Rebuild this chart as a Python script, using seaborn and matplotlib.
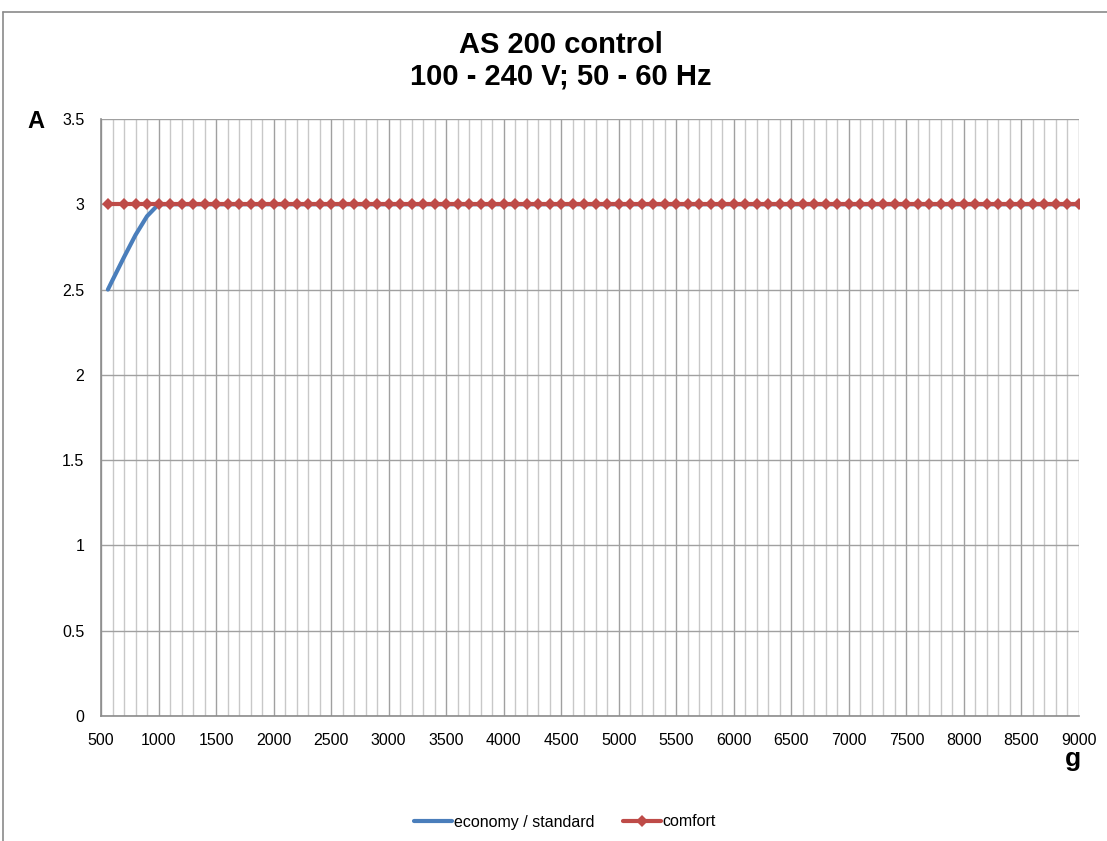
import numpy as np
import pandas as pd
import matplotlib
matplotlib.use("Agg")
import matplotlib.pyplot as plt
from matplotlib.lines import Line2D
from matplotlib.ticker import MultipleLocator
import seaborn as sns

# ---- data ----
title_lines = ["AS 200 control", "100 - 240 V; 50 - 60 Hz"]
economy_x = [560, 600, 700, 800, 900, 1000] + list(range(1100, 9001, 100))
economy_y = [2.5, 2.555, 2.69, 2.82, 2.93, 3.0] + [3.0] * len(range(1100, 9001, 100))
comfort_x = [560] + list(range(700, 9001, 100))
comfort_y = [3.0] * len(comfort_x)
x_ticks = list(range(500, 9001, 500))
y_ticks = [0, 0.5, 1, 1.5, 2, 2.5, 3, 3.5]
y_tick_labels = ["0", "0.5", "1", "1.5", "2", "2.5", "3", "3.5"]
series_names = ["economy / standard", "comfort"]

sns.set_theme(style="white")
plt.rcParams["font.family"] = ["Liberation Sans", "DejaVu Sans"]
plt.rcParams["text.color"] = "black"

W, H = 1107, 841
fig = plt.figure(figsize=(W / 100, H / 100), dpi=100)
ax = fig.add_axes([101 / W, 1 - 716 / H, (1079 - 101) / W, (716 - 119) / H])

df_e = pd.DataFrame({"x": economy_x, "y": economy_y})
df_c = pd.DataFrame({"x": comfort_x, "y": comfort_y})

sns.lineplot(data=df_e, x="x", y="y", ax=ax, color="#4A7EBB", linewidth=3,
             label=series_names[0], zorder=3)
sns.lineplot(data=df_c, x="x", y="y", ax=ax, color="#BE4B48", linewidth=3,
             marker="D", markersize=6, markeredgewidth=0, label=series_names[1], zorder=4)

ax.set_xlim(500, 9000)
ax.set_ylim(0, 3.5)
ax.set_xticks(x_ticks)
ax.set_xticklabels([str(v) for v in x_ticks])
ax.xaxis.set_minor_locator(MultipleLocator(100))
ax.set_yticks(y_ticks)
ax.set_yticklabels(y_tick_labels)

ax.grid(which="minor", axis="x", color="#C8C8C8", linewidth=1)
ax.grid(which="major", axis="x", color="#A0A0A0", linewidth=1)
ax.grid(which="major", axis="y", color="#A0A0A0", linewidth=1)
ax.set_axisbelow(True)

for s in ["top", "right"]:
    ax.spines[s].set_visible(False)
for s in ["left", "bottom"]:
    ax.spines[s].set_color("#8C8C8C")
    ax.spines[s].set_linewidth(1.2)

ax.tick_params(axis="both", which="major", direction="out", length=5, width=1,
               color="#8C8C8C", labelsize=11.5, labelcolor="black")
ax.tick_params(axis="x", which="major", pad=7)
ax.tick_params(axis="y", which="major", pad=7)
ax.tick_params(axis="x", which="minor", length=0)
ax.set_xlabel("")
ax.set_ylabel("")
ax.get_legend().remove()

fig.text(561 / W, 1 - 61 / H, "\n".join(title_lines), ha="center", va="center",
         fontsize=21, fontweight="bold", linespacing=1.15, color="black")
fig.text(36 / W, 1 - 122 / H, "A", ha="center", va="center", fontsize=17,
         fontweight="bold", color="black")
fig.text(1073 / W, 1 - 759 / H, "g", ha="center", va="center", fontsize=19,
         fontweight="bold", color="black")

handles = [Line2D([], [], color="#4A7EBB", linewidth=3),
           Line2D([], [], color="#BE4B48", linewidth=3, marker="D", markersize=6, markeredgewidth=0)]
fig.legend(handles, series_names, loc="center", bbox_to_anchor=(565 / W, 1 - 822 / H),
           ncol=2, frameon=False, fontsize=11.5, handlelength=2.4, handletextpad=0.1,
           columnspacing=1.8, labelcolor="black")

# chart area border (top and left visible)
fig.add_artist(Line2D([3 / W, 3 / W], [0, 1 - 12 / H], transform=fig.transFigure,
                      color="#8A8A8A", linewidth=1.2))
fig.add_artist(Line2D([3 / W, 1], [1 - 12 / H, 1 - 12 / H], transform=fig.transFigure,
                      color="#8A8A8A", linewidth=1.2))

fig.savefig("out.png", dpi=100)
